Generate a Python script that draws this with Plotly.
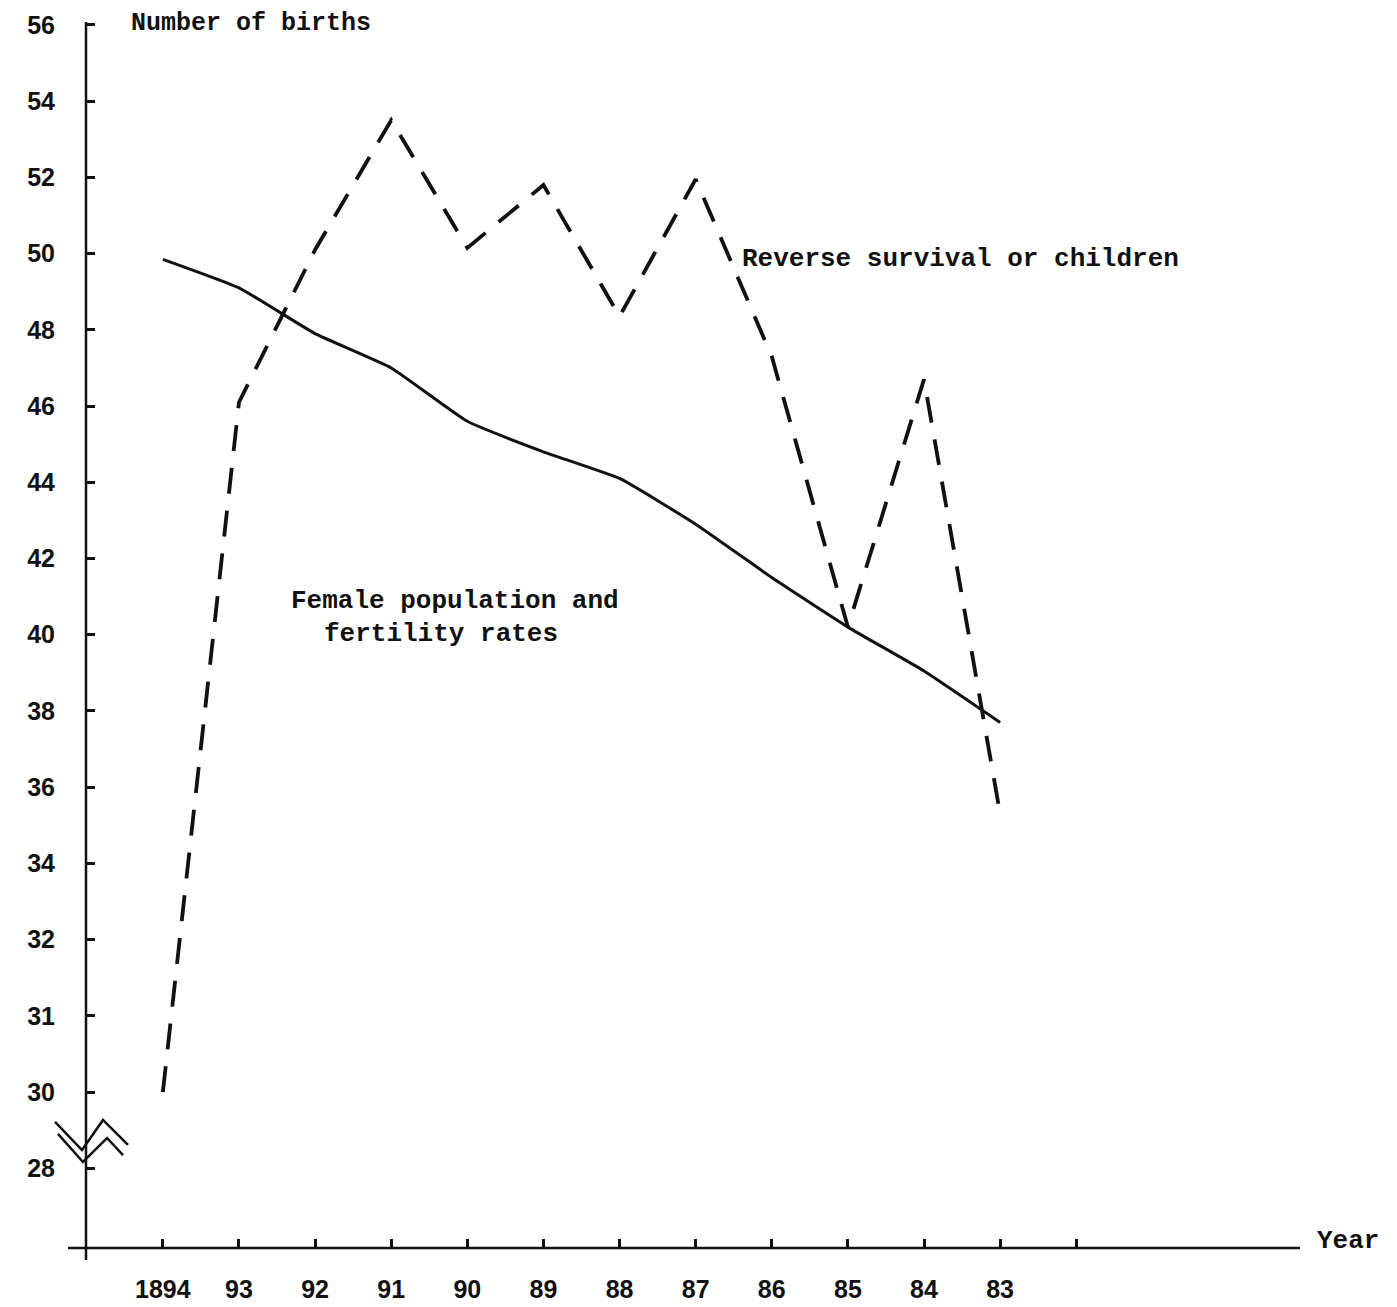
import plotly.graph_objects as go

# Years (x axis runs from 1894 down to 1883, left to right)
years = [1894, 1893, 1892, 1891, 1890, 1889, 1888, 1887, 1886, 1885, 1884, 1883]
year_labels = ["1894", "93", "92", "91", "90", "89", "88", "87", "86", "85", "84", "83", ""]
year_ticks = [1894, 1893, 1892, 1891, 1890, 1889, 1888, 1887, 1886, 1885, 1884, 1883, 1882]

# Reverse survival of children (dashed line), in evenly spaced axis units
reverse_survival = [28.0, 46.1, 50.1, 53.5, 50.15, 51.8, 48.35, 51.95, 47.3, 40.2, 46.7, 35.3]

# Female population and fertility rates (solid line)
female_pop = [49.85, 49.1, 47.9, 47.0, 45.6, 44.8, 44.1, 42.9, 41.5, 40.2, 39.05, 37.7]

# Y axis tick positions (evenly spaced) and their printed labels
y_ticks = [56, 54, 52, 50, 48, 46, 44, 42, 40, 38, 36, 34, 32, 30, 28, 26]
y_labels = ["56", "54", "52", "50", "48", "46", "44", "42", "40", "38", "36", "34", "32", "31", "30", "28"]

INK = "#111111"
MONO = "Liberation Mono, Courier New, monospace"
SANS = "Liberation Sans, Arial, sans-serif"

fig = go.Figure()
fig.add_trace(go.Scatter(
    x=years, y=reverse_survival, mode="lines",
    line=dict(color=INK, width=3.8, dash="26px,17px"),
    name="Reverse survival or children", showlegend=False, hoverinfo="skip",
))
fig.add_trace(go.Scatter(
    x=years, y=female_pop, mode="lines",
    line=dict(color=INK, width=3, shape="spline", smoothing=0.4),
    name="Female population and fertility rates", showlegend=False, hoverinfo="skip",
))

fig.update_layout(
    width=1381, height=1299,
    margin=dict(l=78, r=89, t=15, b=59),
    paper_bgcolor="white", plot_bgcolor="white",
    xaxis=dict(
        range=[1895.01, 1879.06], tickmode="array", tickvals=year_ticks, ticktext=year_labels,
        ticks="inside", ticklen=9, tickwidth=2.5, tickcolor=INK,
        showgrid=False, zeroline=False, showline=False, automargin=False,
        tickfont=dict(family=SANS, size=25, color=INK, weight="bold"),
        ticklabelstandoff=24,
    ),
    yaxis=dict(
        range=[23.91, 56.05], tickmode="array", tickvals=y_ticks, ticktext=y_labels,
        ticks="inside", ticklen=9, tickwidth=2.5, tickcolor=INK,
        showgrid=False, zeroline=False, showline=False, automargin=False,
        tickfont=dict(family=SANS, size=25, color=INK, weight="bold"),
        ticklabelstandoff=30,
    ),
)

# Plot-area pixel helpers (page coordinates -> paper fractions)
def px(xp):
    return (xp - 86) / 1214

def py(yp):
    return (1248 - yp) / 1225

# Axis lines (hand-drawn style extending slightly past the origin)
fig.add_shape(type="line", xref="paper", yref="paper", x0=0, x1=0, y0=py(1260), y1=py(22),
              line=dict(color=INK, width=2.5))
fig.add_shape(type="line", xref="paper", yref="paper", x0=px(68), x1=1, y0=0, y1=0,
              line=dict(color=INK, width=2.5))

# Axis break symbol (two zigzags) near the bottom of the y axis
zig1 = [(55, 1122), (82, 1150), (103, 1120), (128, 1145)]
zig2 = [(58, 1134), (83, 1162), (107, 1138), (123, 1155)]
for zz in (zig1, zig2):
    path = "M " + " L ".join(f"{px(a):.4f},{py(b):.4f}" for a, b in zz)
    fig.add_shape(type="path", xref="paper", yref="paper", path=path,
                  line=dict(color=INK, width=2.5))

# Text labels
fig.add_annotation(text="Number of births", xref="paper", yref="paper",
                   x=px(130), y=py(8), xanchor="left", yanchor="top", showarrow=False,
                   borderpad=0, font=dict(family=MONO, size=25, color=INK, weight="bold"))
fig.add_annotation(text="Reverse survival or children", xref="x", yref="y",
                   x=1886.42, y=49.86, xanchor="left", yanchor="middle", showarrow=False,
                   font=dict(family=MONO, size=26, color=INK, weight="bold"))
fig.add_annotation(text="Female population and", xref="x", yref="y",
                   x=1892.34, y=40.89, xanchor="left", yanchor="middle", showarrow=False,
                   font=dict(family=MONO, size=26, color=INK, weight="bold"))
fig.add_annotation(text="fertility rates", xref="x", yref="y",
                   x=1891.91, y=40.03, xanchor="left", yanchor="middle", showarrow=False,
                   font=dict(family=MONO, size=26, color=INK, weight="bold"))
fig.add_annotation(text="Year", xref="paper", yref="paper",
                   x=px(1315), y=py(1241), xanchor="left", yanchor="middle", showarrow=False,
                   font=dict(family=MONO, size=26, color=INK, weight="bold"))

fig.write_html("out.html")
